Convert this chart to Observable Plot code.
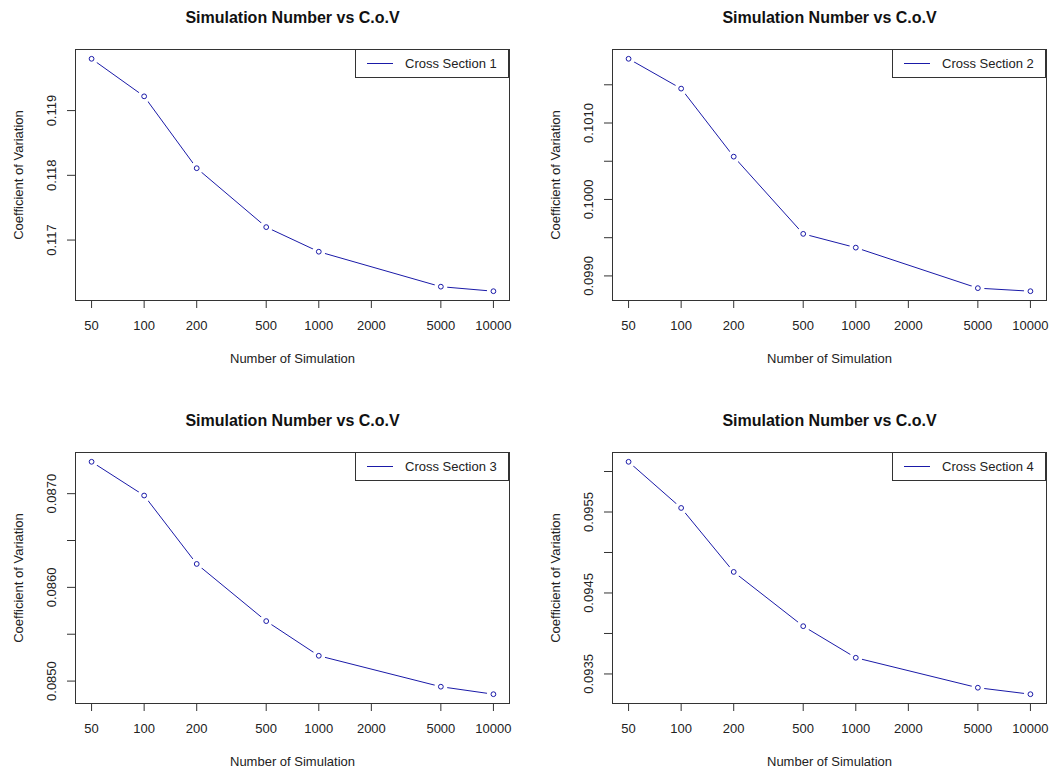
<!DOCTYPE html>
<html>
<head>
<meta charset="utf-8">
<script src="https://cdn.jsdelivr.net/npm/d3@7"></script>
<script src="https://cdn.jsdelivr.net/npm/@observablehq/plot@0.6"></script>
<style>
  body { margin: 0; background: #fff; font-family: "Liberation Sans", Arial, sans-serif; }
  #chart { position: relative; width: 1053px; height: 774px; background: #fff; }
  .panel { position: absolute; }
  .legend {
    position: absolute; box-sizing: border-box; height: 29px; width: 154px;
    border: 1px solid #333; background: #fff; color: #222; font-size: 13px;
    display: flex; align-items: center;
  }
  .legend svg { margin: 0 12px 0 11px; display: block; }
</style>
</head>
<body>
<div id="chart"></div>
<script>
// Number of Monte Carlo simulations run for each cross section
const simulations = [50, 100, 200, 500, 1000, 5000, 10000];

// Coefficient of variation obtained at each simulation count
const covSection1 = [0.11980, 0.11922, 0.11811, 0.11720, 0.11682, 0.11628, 0.11621];
const covSection2 = [0.10184, 0.10145, 0.10056, 0.09955, 0.09937, 0.09884, 0.09880];
const covSection3 = [0.08734, 0.08698, 0.08625, 0.08564, 0.08527, 0.08494, 0.08486];
const covSection4 = [0.09612, 0.09555, 0.09476, 0.09409, 0.09370, 0.09333, 0.09325];

const sectionNames = ["Cross Section 1", "Cross Section 2", "Cross Section 3", "Cross Section 4"];

// Axis ticks
const xTicks = [50, 100, 200, 500, 1000, 2000, 5000, 10000];
const yTicks1 = [0.117, 0.118, 0.119];
const yTicks2 = [0.0990, 0.0995, 0.1000, 0.1005, 0.1010, 0.1015];
const yTicks3 = [0.0850, 0.0855, 0.0860, 0.0865, 0.0870];
const yTicks4 = [0.0935, 0.0940, 0.0945, 0.0950, 0.0955, 0.0960];
const yLabels1 = ["0.117", "0.118", "0.119"];
const yLabels2 = ["0.0990", "0.1000", "0.1010"];
const yLabels3 = ["0.0850", "0.0860", "0.0870"];
const yLabels4 = ["0.0935", "0.0945", "0.0955"];

const titleText = "Simulation Number vs C.o.V";
const xTitle = "Number of Simulation";
const yTitle = "Coefficient of Variation";

const lineColor = "#1a1aa8";
const ink = "#222";

// 4% padding on each side of the data range, like R's default axis style
function padded(lo, hi) {
  const r = hi - lo;
  return [lo - 0.04 * r, hi + 0.04 * r];
}

const W = 526, H = 387;
const panels = [
  { values: covSection1, name: sectionNames[0], yTicks: yTicks1, yLabels: yLabels1,
    left: 0, top: 0, m: { l: 75, r: 17, t: 49, b: 87 } },
  { values: covSection2, name: sectionNames[1], yTicks: yTicks2, yLabels: yLabels2,
    left: 527, top: 0, m: { l: 85, r: 7, t: 49, b: 87 } },
  { values: covSection3, name: sectionNames[2], yTicks: yTicks3, yLabels: yLabels3,
    left: 0, top: 387, m: { l: 75, r: 17, t: 65, b: 71 } },
  { values: covSection4, name: sectionNames[3], yTicks: yTicks4, yLabels: yLabels4,
    left: 527, top: 387, m: { l: 85, r: 7, t: 65, b: 71 } }
];

const chart = document.getElementById("chart");
const fmtInt = d3.format("d");

for (const p of panels) {
  const data = simulations.map((n, i) => ({ n, cov: p.values[i] }));
  const [lx0, lx1] = padded(Math.log10(d3.min(simulations)), Math.log10(d3.max(simulations)));
  const yDomain = padded(d3.min(p.values), d3.max(p.values));

  const svg = Plot.plot({
    width: W,
    height: H,
    marginLeft: p.m.l,
    marginRight: p.m.r,
    marginTop: p.m.t,
    marginBottom: p.m.b,
    style: { fontFamily: "'Liberation Sans', Arial, sans-serif", fontSize: "13px", color: ink, background: "#fff", overflow: "visible" },
    x: { type: "log", domain: [10 ** lx0, 10 ** lx1] },
    y: { domain: yDomain },
    marks: [
      // connecting line, broken around each point (type = "b")
      Plot.line(data, { x: "n", y: "cov", stroke: lineColor, strokeWidth: 1 }),
      Plot.dot(data, { x: "n", y: "cov", r: 6.5, fill: "#fff", stroke: null }),
      Plot.dot(data, { x: "n", y: "cov", r: 2.4, fill: "none", stroke: lineColor, strokeWidth: 1 }),
      Plot.frame({ stroke: "#333" }),
      Plot.axisX({ ticks: xTicks, tickSize: 8, tickFormat: () => "", stroke: "#333", label: null }),
      Plot.text(xTicks, { x: d => d, text: d => fmtInt(d), frameAnchor: "bottom", dy: 25,
        textAnchor: "middle", lineAnchor: "middle", fontSize: 13, fill: ink }),
      Plot.axisY({ ticks: p.yTicks, tickSize: 8, tickFormat: () => "", stroke: "#333", label: null }),
      Plot.text(p.yLabels, { y: d => +d, text: d => d, frameAnchor: "left", dx: -24, rotate: -90,
        textAnchor: "middle", lineAnchor: "middle", fontSize: 13, fill: ink }),
      Plot.text([titleText], { frameAnchor: "top", dy: -32, textAnchor: "middle", lineAnchor: "middle",
        fontSize: 16, fontWeight: "bold", fill: "#111" }),
      Plot.text([xTitle], { frameAnchor: "bottom", dy: 58, textAnchor: "middle", lineAnchor: "middle",
        fontSize: 13, fill: ink }),
      Plot.text([yTitle], { frameAnchor: "left", dx: -57, rotate: -90, textAnchor: "middle", lineAnchor: "middle",
        fontSize: 13, fill: ink })
    ]
  });
  svg.classList.add("panel");
  svg.style.left = p.left + "px";
  svg.style.top = p.top + "px";
  chart.appendChild(svg);

  // legend in the top-right corner of the plotting region
  const legend = document.createElement("div");
  legend.className = "legend";
  legend.style.left = (p.left + W - p.m.r - 154) + "px";
  legend.style.top = (p.top + p.m.t) + "px";
  legend.innerHTML =
    `<svg width="26" height="3"><line x1="0" x2="26" y1="1.5" y2="1.5" stroke="${lineColor}" stroke-width="1"/></svg>` +
    `<span>${p.name}</span>`;
  chart.appendChild(legend);
}
</script>
</body>
</html>
